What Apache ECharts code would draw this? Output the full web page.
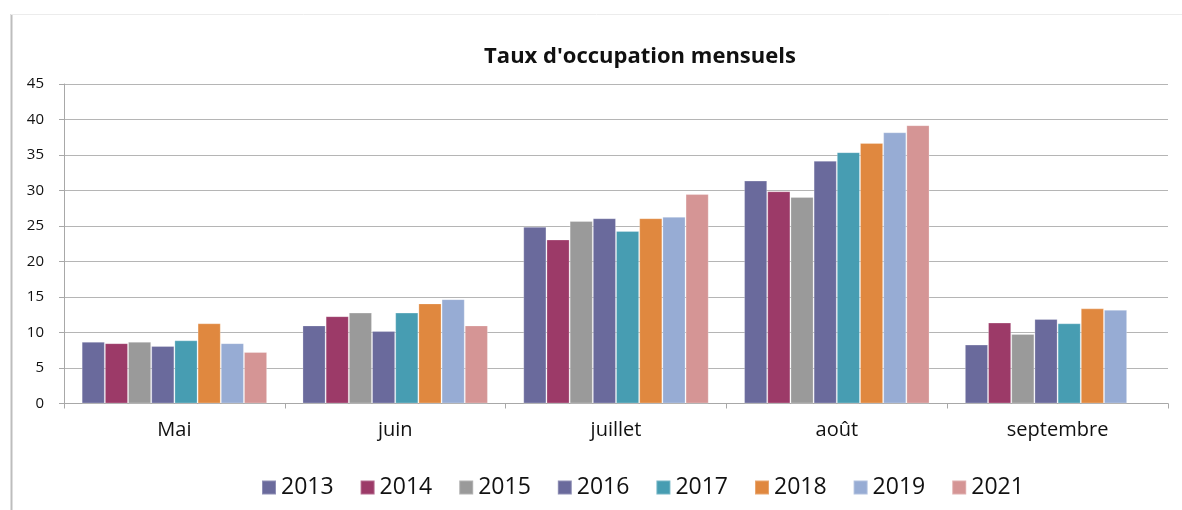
<!DOCTYPE html>
<html><head><meta charset="utf-8">
<script src="https://cdn.jsdelivr.net/npm/echarts@6/dist/echarts.min.js"></script>
<style>html,body{margin:0;padding:0;background:#fff}#c{width:1182px;height:510px}</style>
</head><body><div id="c"></div>
<script>
const categories = ['Mai', 'juin', 'juillet', 'août', 'septembre'];
const years = ['2013', '2014', '2015', '2016', '2017', '2018', '2019', '2021'];
const v2013 = [8.7, 11.0, 24.9, 31.4, 8.3];
const v2014 = [8.5, 12.3, 23.1, 29.9, 11.4];
const v2015 = [8.7, 12.8, 25.7, 29.1, 9.8];
const v2016 = [8.1, 10.2, 26.1, 34.2, 11.9];
const v2017 = [8.9, 12.8, 24.3, 35.4, 11.3];
const v2018 = [11.3, 14.1, 26.1, 36.7, 13.4];
const v2019 = [8.5, 14.7, 26.3, 38.2, 13.2];
const v2021 = [7.25, 11.0, 29.5, 39.2, null];
const yTicks = [0, 5, 10, 15, 20, 25, 30, 35, 40, 45];
const colors = ['#6a6a9c', '#9c3a68', '#9a9a9a', '#6a6a9c', '#479db2', '#e0883f', '#97acd4', '#d59595'];
const values = [v2013, v2014, v2015, v2016, v2017, v2018, v2019, v2021];

const chart = echarts.init(document.getElementById('c'));
chart.setOption({
  animation: false,
  title: {
    text: "Taux d'occupation mensuels",
    left: 635, top: 41, textAlign: 'center',
    textStyle: { fontFamily: 'Open Sans', fontWeight: 'bold', fontSize: 22, color: '#111' }
  },
  graphic: [
    { type: 'line', shape: { x1: 11.5, y1: 14, x2: 11.5, y2: 510 }, style: { stroke: '#bdbdbd', lineWidth: 2 } },
    { type: 'line', shape: { x1: 11, y1: 14.5, x2: 1182, y2: 14.5 }, style: { stroke: '#ececec', lineWidth: 1 } }
  ],
  legend: {
    data: years, left: 256, top: 471, itemWidth: 14, itemHeight: 14, itemGap: 26,
    icon: 'rect',
    textStyle: { fontFamily: 'Open Sans', fontSize: 23, color: '#111' }
  },
  grid: { left: 64, right: 14, top: 84, bottom: 106.5, containLabel: false },
  xAxis: {
    type: 'category', data: categories,
    axisLine: { lineStyle: { color: '#a8a8a8', width: 1 } },
    axisTick: { show: true, length: 5, lineStyle: { color: '#a8a8a8' } },
    axisLabel: { fontFamily: 'Open Sans', fontSize: 20, color: '#111', margin: 17 }
  },
  yAxis: {
    type: 'value', min: 0, max: 45, interval: 5,
    axisLine: { show: true, lineStyle: { color: '#a8a8a8' } },
    axisTick: { show: true, length: 5, lineStyle: { color: '#a8a8a8' } },
    splitLine: { lineStyle: { color: '#b5b5b5', width: 1 } },
    axisLabel: { fontFamily: 'Open Sans', fontSize: 15, color: '#111', margin: 20 }
  },
  series: years.map((y, i) => ({
    name: y, type: 'bar', data: values[i],
    barGap: '0%', barCategoryGap: '16%',
    itemStyle: { color: colors[i], borderColor: 'rgba(255,255,255,0.25)', borderWidth: 1 }
  }))
});
</script></body></html>
